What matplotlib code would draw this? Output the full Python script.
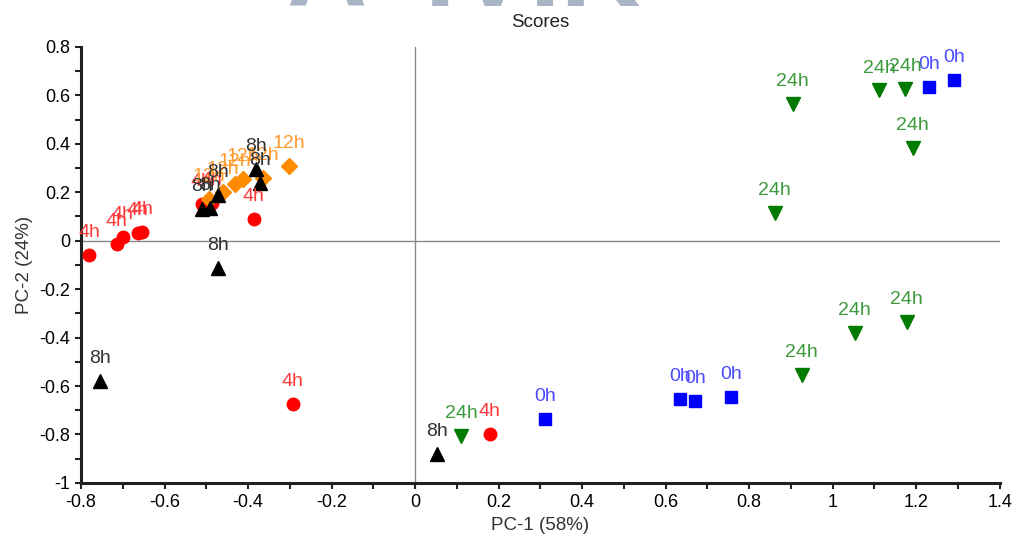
import matplotlib
matplotlib.use("Agg")
import matplotlib.pyplot as plt
from matplotlib.ticker import MultipleLocator, FuncFormatter

plt.rcParams['font.family'] = ['Liberation Sans', 'DejaVu Sans']

# scores per time point (PC-1, PC-2)
pc1_0h = [1.29, 1.23, 0.312, 0.634, 0.671, 0.757]
pc2_0h = [0.665, 0.635, -0.736, -0.653, -0.66, -0.645]

pc1_24h = [0.904, 1.112, 1.174, 1.192, 0.861, 1.053, 1.177, 0.926, 0.11]
pc2_24h = [0.565, 0.62, 0.627, 0.383, 0.115, -0.379, -0.334, -0.554, -0.805]

pc1_4h = [-0.78, -0.715, -0.70, -0.664, -0.653, -0.511, -0.487, -0.386, -0.293, 0.179]
pc2_4h = [-0.06, -0.014, 0.015, 0.031, 0.037, 0.151, 0.155, 0.09, -0.674, -0.799]

pc1_12h = [-0.493, -0.461, -0.431, -0.412, -0.364, -0.302]
pc2_12h = [0.171, 0.203, 0.233, 0.254, 0.258, 0.31]

pc1_8h = [-0.755, 0.052, -0.472, -0.511, -0.49, -0.472, -0.382, -0.372]
pc2_8h = [-0.58, -0.881, -0.113, 0.13, 0.135, 0.19, 0.295, 0.24]

groups = [
    ("0h", pc1_0h, pc2_0h, 's', '#0000ff', '#4a4aff', 8.5),
    ("24h", pc1_24h, pc2_24h, 'v', '#007a00', '#3c9a3c', 9.5),
    ("4h", pc1_4h, pc2_4h, 'o', '#ff0000', '#ff3a3a', 9),
    ("12h", pc1_12h, pc2_12h, 'D', '#ff8c00', '#ff9a2e', 8),
    ("8h", pc1_8h, pc2_8h, '^', '#000000', '#333333', 9.5),
]

fig = plt.figure(figsize=(10.19, 5.39), dpi=100)
ax = fig.add_axes([0.0795, 0.104, 0.9015, 0.809])

# watermark at the top edge (only its lower part is visible)
fig.text(0.455, 1 - 6 / 539, "A  IVIK", fontsize=80, fontweight='bold',
         color='#a9b5c5', ha='center', va='baseline', zorder=0)

ax.axhline(0, color='#888888', lw=1, zorder=1)
ax.axvline(0, color='#888888', lw=1, zorder=1)

for lab, xs, ys, mk, col, tcol, ms in groups:
    ax.plot(xs, ys, ls='none', marker=mk, color=col, ms=ms, mec=col, zorder=3)
    for x, y in zip(xs, ys):
        ax.annotate(lab, (x, y), xytext=(0, 10), textcoords='offset points',
                    ha='center', va='bottom', color=tcol, fontsize=14, zorder=4)

ax.set_xlim(-0.8, 1.4)
ax.set_ylim(-1, 0.8)
ax.xaxis.set_major_locator(MultipleLocator(0.2))
ax.xaxis.set_minor_locator(MultipleLocator(0.1))
ax.yaxis.set_major_locator(MultipleLocator(0.2))
ax.yaxis.set_minor_locator(MultipleLocator(0.1))
fmt = FuncFormatter(lambda v, p: '%g' % round(v, 2) if abs(v) > 1e-9 else '0')
ax.xaxis.set_major_formatter(fmt)
ax.yaxis.set_major_formatter(fmt)

for s in ['top', 'right']:
    ax.spines[s].set_visible(False)
for s in ['left', 'bottom']:
    ax.spines[s].set_linewidth(2.2)
    ax.spines[s].set_color('#222222')
ax.tick_params(which='both', direction='out', length=4, width=1.5, color='#222222',
               labelsize=13, pad=4)

ax.set_title("Scores", fontsize=13.5, color='#222222', pad=14)
ax.set_xlabel("PC-1 (58%)", fontsize=13.5, color='#333333', labelpad=4)
ax.set_ylabel("PC-2 (24%)", fontsize=13.5, color='#333333', labelpad=4)

fig.savefig("out.png", dpi=100)
